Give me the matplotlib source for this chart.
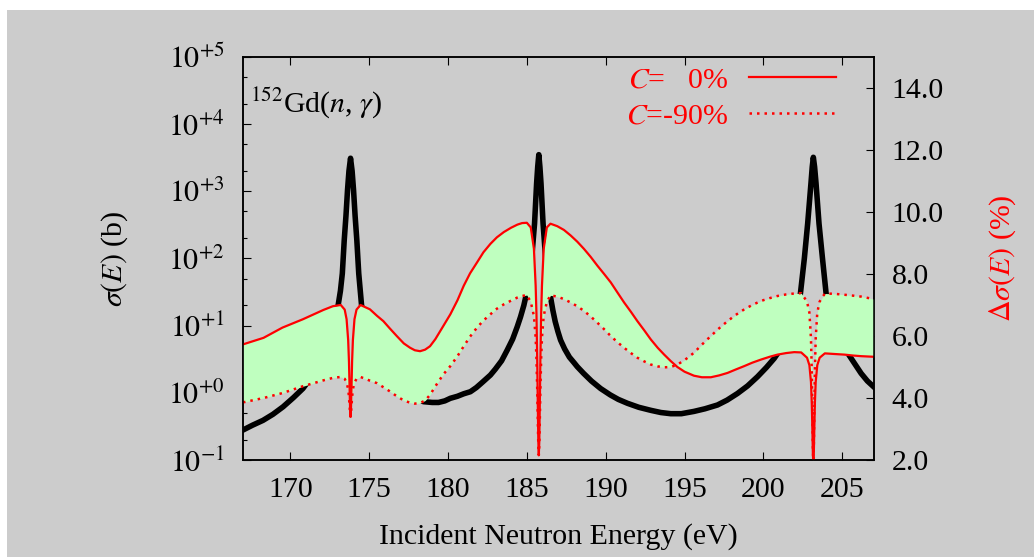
import matplotlib
matplotlib.use('Agg')
import matplotlib.pyplot as plt
from matplotlib.patches import Rectangle
from matplotlib.ticker import LogLocator, NullFormatter

plt.rcParams['font.family'] = 'serif'
plt.rcParams['font.serif'] = ['Liberation Serif', 'DejaVu Serif']
plt.rcParams['mathtext.fontset'] = 'stix'

# capture cross section (left axis, barn)
sig_E = [167.0, 167.6, 168.27, 168.9, 169.54, 170.2, 170.8, 171.2, 171.5, 171.9,
         172.2, 172.5, 172.7, 172.9, 173.04, 173.18, 173.3, 173.42, 173.53, 173.63,
         173.72, 173.82, 173.92, 174.01, 174.11, 174.22, 174.34, 174.52, 174.75, 175.0,
         175.5, 175.8, 176.2, 176.6, 177.0, 177.35, 177.7, 178.05, 178.44, 179.0,
         179.4, 179.8, 180.15, 180.6, 181.0, 181.42, 181.8, 182.2, 182.69, 183.0,
         183.4, 183.75, 184.1, 184.39, 184.6, 184.81, 185.1, 185.3, 185.49, 185.62,
         185.69, 185.76, 185.83, 185.9, 186.03, 186.2, 186.35, 186.5, 186.65, 186.8,
         186.97, 187.14, 187.4, 187.7, 188.0, 188.2, 188.6, 189.1, 189.68, 190.3,
         190.8, 191.38, 192.1, 192.86, 193.5, 194.13, 194.8, 195.6, 196.3, 197.09,
         197.7, 198.36, 199.0, 199.63, 200.2, 200.69, 201.1, 201.5, 202.0, 202.35,
         202.6, 202.81, 203.02, 203.1, 203.17, 203.25, 203.34, 203.53, 203.75, 203.98,
         204.2, 204.5, 204.75, 205.0, 205.35, 205.8, 206.2, 206.6, 207.0]
sig_b = [0.28, 0.33, 0.39, 0.48, 0.62, 0.85, 1.16, 1.55, 2.0, 3.0,
         4.5, 7.0, 10.0, 14.5, 20.5, 33, 60, 186, 430, 1050,
         2000, 3100, 2000, 1050, 430, 186, 60, 20, 13, 9.0,
         4.5, 3.3, 2.3, 1.7, 1.35, 1.12, 0.95, 0.83, 0.74, 0.72,
         0.72, 0.76, 0.83, 0.89, 0.97, 1.04, 1.2, 1.45, 1.84, 2.25,
         3.0, 4.3, 6.3, 9.6, 13.5, 20, 40, 95, 330, 1300,
         2300, 3500, 2300, 1300, 330, 95, 45, 27, 17, 11.5,
         8.2, 6.1, 4.5, 3.4, 2.8, 2.45, 1.95, 1.5, 1.16, 0.93,
         0.80, 0.70, 0.61, 0.55, 0.51, 0.49, 0.49, 0.53, 0.58, 0.66,
         0.78, 0.98, 1.27, 1.74, 2.4, 3.26, 4.5, 6.5, 14, 30,
         100, 330, 1320, 2300, 3200, 2300, 1320, 330, 100, 30,
         17, 10, 7.2, 5.5, 3.9, 2.7, 1.95, 1.5, 1.23]

# relative uncertainty (right axis, %) for C = 0% and C = -90%
unc_E = [167.0, 168.3, 169.5, 170.8, 172.1, 172.7, 173.2, 173.45, 173.57, 173.67,
         173.72, 173.76, 173.79, 173.82, 173.85, 173.88, 173.92, 173.97, 174.07, 174.2,
         174.45, 175.05, 175.5, 175.9, 176.3, 176.75, 177.2, 177.6, 177.9, 178.23,
         178.55, 178.86, 179.2, 179.7, 180.15, 180.6, 181.0, 181.4, 181.84, 182.25,
         182.69, 183.1, 183.54, 184.0, 184.4, 184.7, 185.0, 185.25, 185.45, 185.56,
         185.61, 185.66, 185.70, 185.73, 185.76, 185.79, 185.82, 185.86, 185.91, 185.96,
         186.07, 186.27, 186.5, 186.93, 187.35, 187.78, 188.2, 188.62, 189.05, 189.47,
         189.9, 190.32, 190.75, 191.17, 191.6, 192.01, 192.45, 192.86, 193.3, 193.71,
         194.13, 194.55, 195.0, 195.6, 196.1, 196.67, 197.2, 197.73, 198.25, 198.79,
         199.3, 199.85, 200.4, 200.9, 201.45, 201.96, 202.4, 202.77, 202.92, 203.02,
         203.07, 203.11, 203.14, 203.17, 203.20, 203.23, 203.27, 203.32, 203.42, 203.57,
         203.9, 204.5, 205.14, 205.7, 206.2, 206.6, 207.0]
unc_c0 = [5.73, 5.94, 6.27, 6.54, 6.84, 6.96, 7.00, 6.85, 6.54, 5.87,
          5.19, 4.34, 3.69, 3.40, 3.69, 4.34, 5.19, 5.87, 6.54, 6.85,
          7.00, 6.86, 6.65, 6.48, 6.25, 6.00, 5.76, 5.62, 5.54, 5.51,
          5.56, 5.67, 5.90, 6.32, 6.70, 7.15, 7.62, 8.02, 8.37, 8.70,
          8.97, 9.18, 9.35, 9.49, 9.59, 9.64, 9.65, 9.50, 8.81, 7.62,
          6.72, 5.22, 3.65, 2.59, 2.16, 2.59, 3.65, 5.22, 6.72, 7.62,
          8.81, 9.50, 9.62, 9.54, 9.42, 9.24, 9.04, 8.81, 8.55, 8.27,
          8.00, 7.73, 7.40, 7.08, 6.78, 6.48, 6.18, 5.89, 5.62, 5.40,
          5.19, 5.00, 4.85, 4.72, 4.67, 4.67, 4.73, 4.81, 4.92, 5.03,
          5.14, 5.24, 5.33, 5.40, 5.45, 5.48, 5.47, 5.30, 5.06, 4.52,
          3.86, 2.97, 2.23, 1.87, 2.23, 2.97, 3.86, 4.52, 5.06, 5.30,
          5.44, 5.42, 5.40, 5.37, 5.35, 5.34, 5.33]
unc_c90 = [3.86, 4.00, 4.16, 4.38, 4.57, 4.65, 4.68, 4.62, 4.50, 4.29,
           4.04, 3.74, 3.51, 3.40, 3.51, 3.74, 4.04, 4.29, 4.50, 4.62,
           4.68, 4.56, 4.48, 4.35, 4.22, 4.06, 3.92, 3.85, 3.82, 3.84,
           3.92, 4.10, 4.38, 4.76, 5.03, 5.35, 5.67, 5.98, 6.27, 6.50,
           6.70, 6.88, 7.02, 7.14, 7.24, 7.29, 7.32, 7.10, 6.65, 5.95,
           5.30, 4.27, 3.19, 2.46, 2.16, 2.46, 3.19, 4.27, 5.30, 5.95,
           6.65, 7.10, 7.31, 7.27, 7.19, 7.08, 6.96, 6.81, 6.63, 6.43,
           6.22, 6.00, 5.80, 5.62, 5.45, 5.30, 5.18, 5.08, 5.02, 4.99,
           5.00, 5.08, 5.22, 5.46, 5.72, 6.00, 6.25, 6.48, 6.68, 6.86,
           7.00, 7.13, 7.22, 7.29, 7.34, 7.37, 7.38, 7.11, 6.75, 5.92,
           4.91, 3.55, 2.42, 1.87, 2.42, 3.55, 4.91, 5.92, 6.75, 7.11,
           7.37, 7.36, 7.33, 7.30, 7.27, 7.23, 7.19]

xticks = [170, 175, 180, 185, 190, 195, 200, 205]
yticks = [1e-1, 1e0, 1e1, 1e2, 1e3, 1e4, 1e5]
ytick_labels = [r'$10^{-1}$', r'$10^{+0}$', r'$10^{+1}$', r'$10^{+2}$',
                r'$10^{+3}$', r'$10^{+4}$', r'$10^{+5}$']
y2ticks = [2.0, 4.0, 6.0, 8.0, 10.0, 12.0, 14.0]
y2tick_labels = ['2.0', '4.0', '6.0', '8.0', '10.0', '12.0', '14.0']
legend_labels = ['$C$=   0%', '$C$=-90%']

FS = 21.5
GRAY = '#cccccc'

fig = plt.figure(figsize=(10.34, 5.57), dpi=100)
fig.patch.set_facecolor('white')
fig.add_artist(Rectangle((7 / 1034, 0), 1, 1 - 10 / 557, transform=fig.transFigure,
                         facecolor=GRAY, edgecolor='none', zorder=-10))

ax = fig.add_axes([0.235, 0.174, 0.61, 0.724])
ax.set_facecolor(GRAY)
ax.plot(sig_E, sig_b, color='black', lw=4.0)
ax.set_yscale('log')
ax.set_xlim(167, 207)
ax.set_ylim(1e-1, 1e5)
ax.set_xticks(xticks)
ax.set_yticks(yticks, ytick_labels)
ax.yaxis.set_minor_locator(LogLocator(subs=(2.0, 5.0)))
ax.yaxis.set_minor_formatter(NullFormatter())
ax.tick_params(axis='both', which='both', direction='in', width=0.8, labelsize=FS)
ax.tick_params(axis='both', which='major', length=6)
ax.tick_params(axis='both', which='minor', length=3)
ax.tick_params(axis='x', top=True, pad=12)
ax.tick_params(axis='y', right=False, pad=13)
for s in ax.spines.values():
    s.set_linewidth(1.1)

ax.text(0.011, 0.864, r'$^{152}$Gd($n$, $\gamma$)', transform=ax.transAxes,
        fontsize=FS, ha='left', va='baseline')

ax.set_xlabel('Incident Neutron Energy (eV)', fontsize=FS)
ax.xaxis.set_label_coords(0.5, -0.19)
ax.xaxis.label.set_va('center')
ax.set_ylabel(r'$\sigma(E)$ (b)', fontsize=FS)
ax.yaxis.set_label_coords(-0.203, 0.5)
ax.yaxis.label.set_va('center')

ax2 = ax.twinx()
ax2.fill_between(unc_E, unc_c0, unc_c90, color='#bfffbf', lw=0, zorder=3)
l0, = ax2.plot(unc_E, unc_c0, color='red', lw=1.6, zorder=4)
l90, = ax2.plot(unc_E, unc_c90, color='red', lw=1.8, ls=(0, (1, 2.0)), zorder=4)
ax2.set_ylim(2, 15)
ax2.set_yticks(y2ticks, y2tick_labels)
ax2.tick_params(axis='y', direction='in', length=6, width=0.8, labelsize=FS, pad=13)
for s in ax2.spines.values():
    s.set_linewidth(1.1)
    s.set_zorder(5)
ax2.set_ylabel(r'$\Delta\sigma(E)$ (%)', fontsize=FS, color='red')
ax2.yaxis.set_label_coords(1.204, 0.5)
ax2.yaxis.label.set_va('center')

ax2.legend([l0, l90], legend_labels, loc='upper right', bbox_to_anchor=(0.94, 0.975),
           frameon=False, markerfirst=False, handlelength=2.9, handletextpad=0.7,
           labelspacing=0.3, borderpad=0, borderaxespad=0, fontsize=FS,
           labelcolor='red')

fig.savefig('out.png', dpi=100)
